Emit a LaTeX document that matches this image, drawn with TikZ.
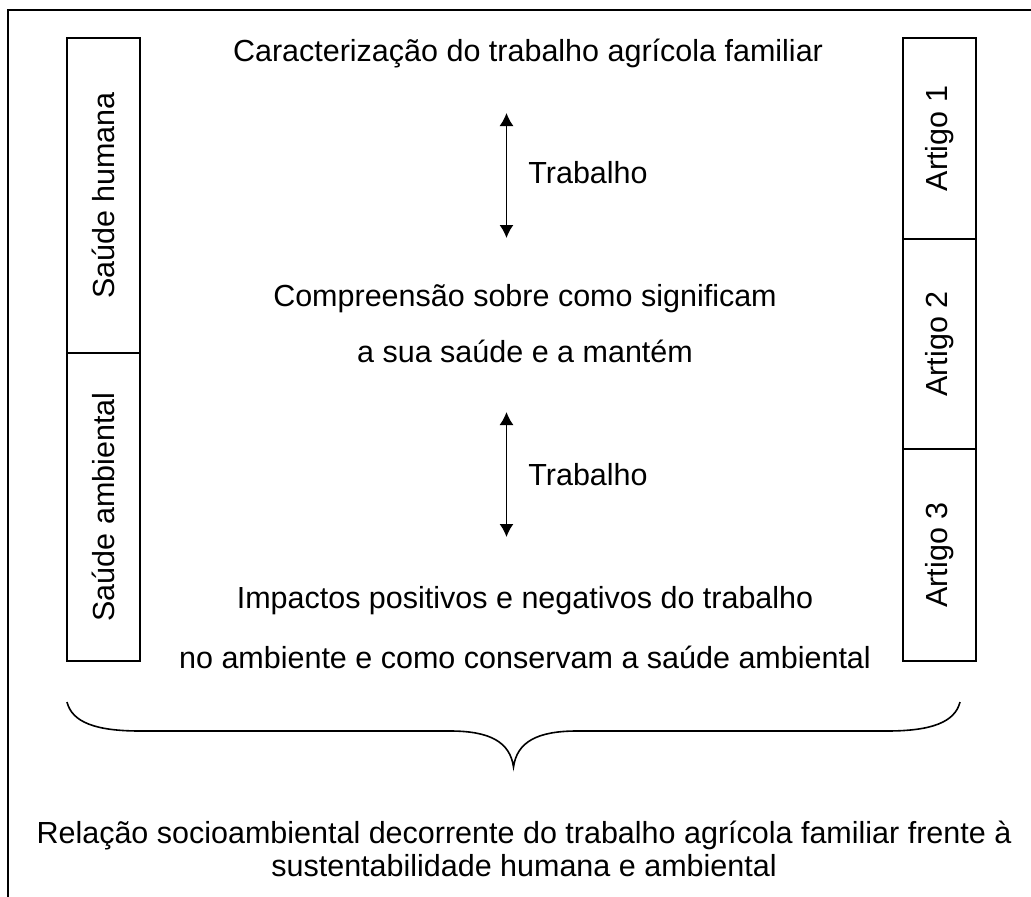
\documentclass[tikz,border=0pt]{standalone}
\usepackage{fontspec}
\setmainfont{Liberation Sans}
\usetikzlibrary{arrows.meta}

\begin{document}
\begin{tikzpicture}[x=1pt, y=-1pt, cell/.style={draw, line width=1.8pt, rotate=90, minimum height=73pt, inner sep=0pt, font=\fontsize{30.5}{33}\selectfont}, txt/.style={anchor=base, inner sep=0pt, font=\fontsize{30.5}{33}\selectfont}, n/.style={{Latex[length=13pt,width=14pt]}-{Latex[length=13pt,width=14pt]}, line width=1.6pt}]
                \useasboundingbox (0,0) rectangle (1031,897);
                % frame
                \draw[line width=1.8pt] (8,897) -- (8,10) -- (1031,10);
                % columns
                \node[cell, minimum width=315pt] (sh) at (103.5,195.5) {Saúde humana};
                \node[cell, minimum width=308pt] (sa) at (103.5,507) {Saúde ambiental};
                \node[cell, minimum width=201pt] (a1) at (939.5,138.5) {Artigo 1};
                \node[cell, minimum width=210pt] (a2) at (939.5,344) {Artigo 2};
                \node[cell, minimum width=212pt] (a3) at (939.5,555) {Artigo 3};
                % texts
                \node[txt] (car) at (528,61) {Caracterização do trabalho agrícola familiar};
                \node[txt] (tr1) at (588,183) {Trabalho};
                \node[txt] (com1) at (525,306) {Compreensão sobre como significam};
                \node[txt] (com2) at (525,362) {a sua saúde e a mantém};
                \node[txt] (tr2) at (588,485) {Trabalho};
                \node[txt] (imp1) at (525,608) {Impactos positivos e negativos do trabalho};
                \node[txt] (imp2) at (525,668) {no ambiente e como conservam a saúde ambiental};
                \node[txt] (rel1) at (524,843) {Relação socioambiental decorrente do trabalho agrícola familiar frente à};
                \node[txt] (rel2) at (524,876) {sustentabilidade humana e ambiental};
                % arrows
                \coordinate (u1) at (506.5,113);
                \coordinate (d1) at (506.5,238);
                \coordinate (u2) at (506.5,412);
                \coordinate (d2) at (506.5,537);
                \draw[n] (u1) -- (d1);
                \draw[n] (u2) -- (d2);
                % brace
                \coordinate (bl) at (67,702);
                \coordinate (bt) at (513.5,767);
                \coordinate (br) at (960,702);
                \draw[line width=1.6pt] (bl) .. controls (72,722) and (95,731) .. (140,731) -- (450,731) .. controls (490,731) and (510,742) .. (bt) .. controls (517,742) and (537,731) .. (577,731) -- (887,731) .. controls (932,731) and (955,722) .. (br);
            \end{tikzpicture}
\end{document}
